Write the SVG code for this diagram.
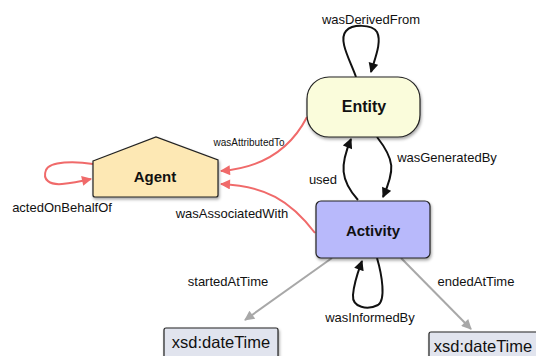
<svg xmlns="http://www.w3.org/2000/svg" width="536" height="356" viewBox="0 0 536 356">
<style>
.node{stroke:#222;stroke-width:1.2}
.lbl{font-family:"Liberation Sans",Arial,sans-serif;font-size:13px;fill:#111;text-anchor:middle}
.title{font-family:"Liberation Sans",Arial,sans-serif;font-size:15px;font-weight:bold;fill:#111;text-anchor:middle}
.dt{font-family:"Liberation Sans",Arial,sans-serif;font-size:16.5px;fill:#111;text-anchor:middle}
.blk{fill:none;stroke:#111;stroke-width:2}
.red{fill:none;stroke:#f06a6a;stroke-width:2}
.gry{fill:none;stroke:#a8a8a8;stroke-width:2}
</style>
<defs>
<filter id="sh" x="-20%" y="-20%" width="140%" height="150%">
<feDropShadow dx="1" dy="2" stdDeviation="1.5" flood-color="#000" flood-opacity="0.35"/>
</filter>
<marker id="ar" viewBox="0 0 10 10" refX="9" refY="5" markerWidth="12" markerHeight="10" orient="auto" markerUnits="userSpaceOnUse"><path d="M0,0 L10,5 L0,10 z" fill="#f06a6a"/></marker>
<marker id="ag" viewBox="0 0 10 10" refX="9" refY="5" markerWidth="12" markerHeight="10" orient="auto" markerUnits="userSpaceOnUse"><path d="M0,0 L10,5 L0,10 z" fill="#a8a8a8"/></marker>
<marker id="abk" viewBox="0 0 10 10" refX="9" refY="5" markerWidth="12" markerHeight="10" orient="auto" markerUnits="userSpaceOnUse"><path d="M0,0 L10,5 L0,10 z" fill="#111"/></marker>
</defs>
<g id="connectors">
<path class="blk" d="M356,77 C350,60 338,40 346,31 C352,24 372,24 377,32 C382,42 375,58 371,72" marker-end="url(#abk)"/>
<path class="red" d="M93,164 C75,161 50,161 46,170 C42,180 50,185 62,184 C72,183 82,181 91,179" marker-end="url(#ar)"/>
<path class="red" d="M307,117 C290,150 260,168 221,171" marker-end="url(#ar)"/>
<path class="red" d="M315,233 C290,200 265,186 221,184" marker-end="url(#ar)"/>
<path class="blk" d="M358,200 C340,180 340,165 351,139" marker-end="url(#abk)"/>
<path class="blk" d="M377,137 C395,160 395,170 383,197" marker-end="url(#abk)"/>
<path class="blk" d="M377,258 C382,275 386,300 378,305 C368,310 352,308 353,295 C354,282 358,272 362,261" marker-end="url(#abk)"/>
<path class="gry" d="M332,258 L245,320" marker-end="url(#ag)"/>
<path class="gry" d="M401,258 L471,329" marker-end="url(#ag)"/>
</g>
<g id="entity">
<rect class="node" x="307" y="77" width="113" height="60" rx="22" ry="22" fill="#fafcdb" filter="url(#sh)"/>
<text class="title" x="364" y="112" style="font-size:16px">Entity</text>
</g>
<g id="agent">
<path class="node" d="M93,161 L156,137 L218,160 L218,195 Q218,197 216,197 L95,197 Q93,197 93,195 Z" fill="#fde8b4" filter="url(#sh)"/>
<text class="title" x="155" y="182">Agent</text>
</g>
<g id="activity">
<rect class="node" x="316" y="201" width="114" height="57" rx="5" ry="5" fill="#b8b9fb" filter="url(#sh)"/>
<text class="title" x="373" y="236">Activity</text>
</g>
<g id="dt1">
<rect class="node" x="164" y="328" width="114" height="34" rx="2" fill="#e1e4ee" filter="url(#sh)"/>
<text class="dt" x="221" y="348">xsd:dateTime</text>
</g>
<g id="dt2">
<rect class="node" x="429" y="332" width="112" height="34" rx="2" fill="#e1e4ee" filter="url(#sh)"/>
<text class="dt" x="483" y="352">xsd:dateTime</text>
</g>
<g id="labels">
<text class="lbl" x="371" y="24">wasDerivedFrom</text>
<text class="lbl" x="249" y="146" style="font-size:10px">wasAttributedTo</text>
<text class="lbl" x="447" y="162">wasGeneratedBy</text>
<text class="lbl" x="323" y="184">used</text>
<text class="lbl" x="62" y="212">actedOnBehalfOf</text>
<text class="lbl" x="232" y="218">wasAssociatedWith</text>
<text class="lbl" x="228" y="286">startedAtTime</text>
<text class="lbl" x="476" y="286">endedAtTime</text>
<text class="lbl" x="370" y="322">wasInformedBy</text>
</g>
</svg>
